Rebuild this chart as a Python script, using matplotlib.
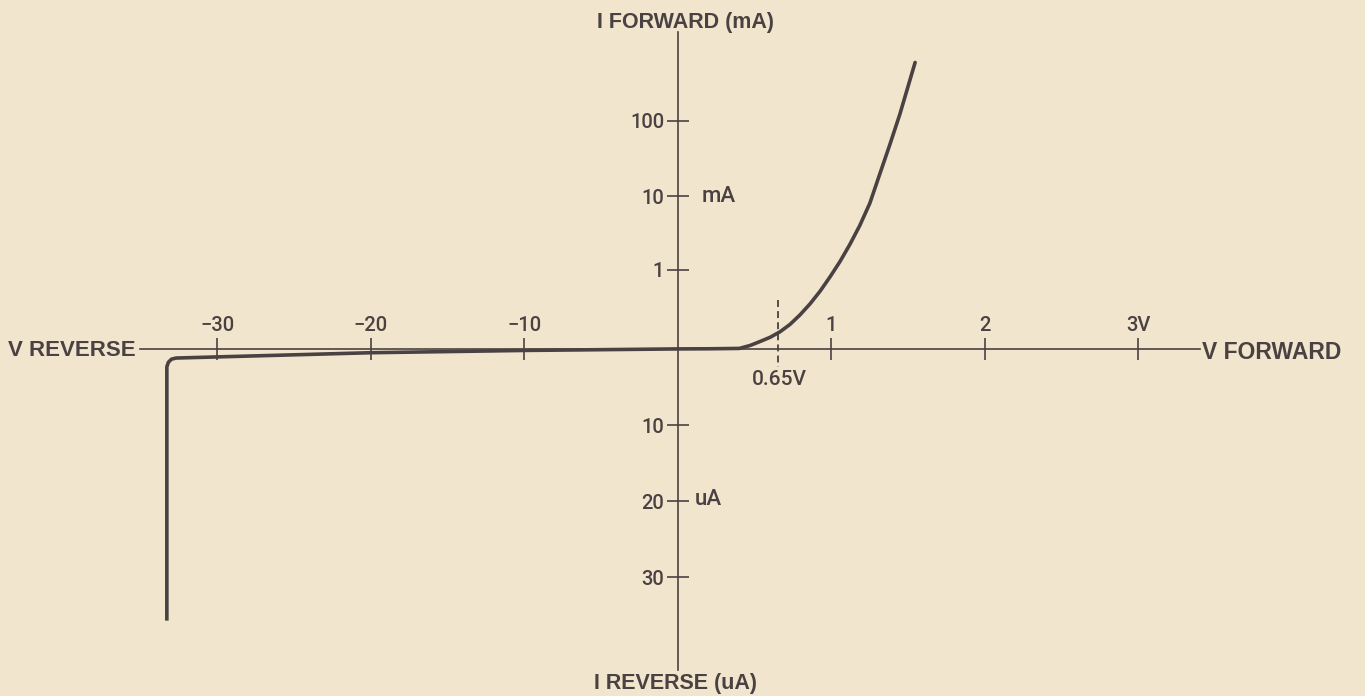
import numpy as np
import matplotlib
matplotlib.use("Agg")
import matplotlib.pyplot as plt

# Diode I-V characteristic: forward branch (V, mA), reverse branch (V, uA)
forward_v = [0.0, 0.20, 0.40, 0.47, 0.53, 0.60, 0.665, 0.73, 0.795, 0.86,
             0.925, 0.99, 1.055, 1.12, 1.185, 1.25, 1.315, 1.38, 1.445, 1.545]
forward_ma = [0.0, 0.0004, 0.0015, 0.011, 0.024, 0.042, 0.068, 0.11, 0.18, 0.29,
              0.47, 0.78, 1.3, 2.26, 4.1, 8.1, 19.8, 48, 120, 580]

reverse_v = [0.0, -10, -20, -30, -32.7, -33.0, -33.2, -33.3, -33.3]
reverse_ua = [0.0, 0.2, 0.5, 1.05, 1.2, 1.35, 1.75, 2.35, 35.7]

x_ticks = [-30, -20, -10, 1, 2, 3]
x_labels = ["\u221230", "\u221220", "\u221210", "1", "2", "3V"]
y_ticks = [100, 10, 1, -10, -20, -30]
y_labels = ["100", "10", "1", "10", "20", "30"]
knee_v = 0.65

INK = "#4a4242"
PAPER = "#f2e5ce"
plt.rcParams["font.family"] = ["Liberation Sans", "DejaVu Sans"]
plt.rcParams["lines.scale_dashes"] = False
LABEL_FONT = dict(family=["Roboto", "Liberation Sans", "DejaVu Sans"], weight="medium")


# Voltage axis: reverse side compressed 10x
def fx(v):
    v = np.asarray(v, dtype=float)
    return np.where(v >= 0, v, v / 10.0)


def fx_inv(u):
    u = np.asarray(u, dtype=float)
    return np.where(u >= 0, u, u * 10.0)


# Current axis: forward mA on a log-like scale, reverse uA linear
def fy(y):
    y = np.asarray(y, dtype=float)
    return np.where(y >= 0, np.log10(1 + np.maximum(y, 0) / 0.1), y / 10.0)


def fy_inv(u):
    u = np.asarray(u, dtype=float)
    return np.where(u >= 0, 0.1 * (10 ** np.maximum(u, 0) - 1), u * 10.0)


fig = plt.figure(figsize=(13.65, 6.96), dpi=100, facecolor=PAPER)
ax = fig.add_axes([0, 0, 1, 1], facecolor=PAPER)
ax.set_xscale("function", functions=(fx, fx_inv))
ax.set_yscale("function", functions=(fy, fy_inv))
ax.set_xlim(-44.17, 4.476)
ax.set_ylim(-45.6, 3837)

# Axes crossing at the origin
for side in ("bottom", "right"):
    ax.spines[side].set_visible(False)
ax.spines["top"].set_position(("data", 0))
ax.spines["left"].set_position(("data", 0))
ax.spines["top"].set_bounds(-35.05, 3.40)
ax.spines["left"].set_bounds(-42.2, 1445)
for side in ("top", "left"):
    ax.spines[side].set_color(INK)
    ax.spines[side].set_linewidth(1.2)

ax.xaxis.set_ticks_position("top")
ax.yaxis.set_ticks_position("left")
ax.set_xticks(x_ticks)
ax.set_xticklabels(x_labels, **LABEL_FONT)
ax.set_yticks(y_ticks)
ax.set_yticklabels(y_labels, **LABEL_FONT)
ax.minorticks_off()
ax.tick_params(axis="both", direction="inout", length=16, width=1.2,
               color=INK, labelcolor=INK, labelsize=14.5)
ax.tick_params(axis="x", pad=2)
ax.tick_params(axis="y", pad=2)

# Characteristic curve
ax.plot(forward_v, forward_ma, color=INK, lw=2.6, solid_capstyle="round",
        solid_joinstyle="round", zorder=3)
ax.plot(reverse_v, [-i for i in reverse_ua], color=INK, lw=2.6,
        solid_capstyle="butt", solid_joinstyle="round", zorder=3)

# Knee voltage marker
ax.plot([knee_v, knee_v], [0.34, -2.35], color=INK, lw=1.3,
        dashes=(5, 3), zorder=2)
ax.annotate("0.65V", xy=(knee_v, 0), xytext=(2, -31), textcoords="offset pixels",
            ha="center", va="center", fontsize=15, color=INK, **LABEL_FONT)

# Unit labels beside the current axis
ax.annotate("mA", xy=(0, 10), xytext=(41, 0), textcoords="offset pixels",
            ha="center", va="center", fontsize=16, color=INK, **LABEL_FONT)
ax.annotate("uA", xy=(0, -20), xytext=(30, 2), textcoords="offset pixels",
            ha="center", va="center", fontsize=16, color=INK, **LABEL_FONT)

# Axis titles at the ends of the axes
ax.annotate("I FORWARD (mA)", xy=(0, 1445), xytext=(8, 10), textcoords="offset pixels",
            ha="center", va="center", fontsize=15.5, color=INK, fontweight="bold")
ax.annotate("I REVERSE (uA)", xy=(0, -42.2), xytext=(-2, -13), textcoords="offset pixels",
            ha="center", va="center", fontsize=15.5, color=INK, fontweight="bold")
ax.annotate("V REVERSE", xy=(-35.05, 0), xytext=(-4, -2), textcoords="offset pixels",
            ha="right", va="center", fontsize=16, color=INK, fontweight="bold")
ax.annotate("V FORWARD", xy=(3.40, 0), xytext=(2, -4), textcoords="offset pixels",
            ha="left", va="center", fontsize=16.5, color=INK, fontweight="bold")

fig.savefig("out.png", dpi=100, facecolor=PAPER)
